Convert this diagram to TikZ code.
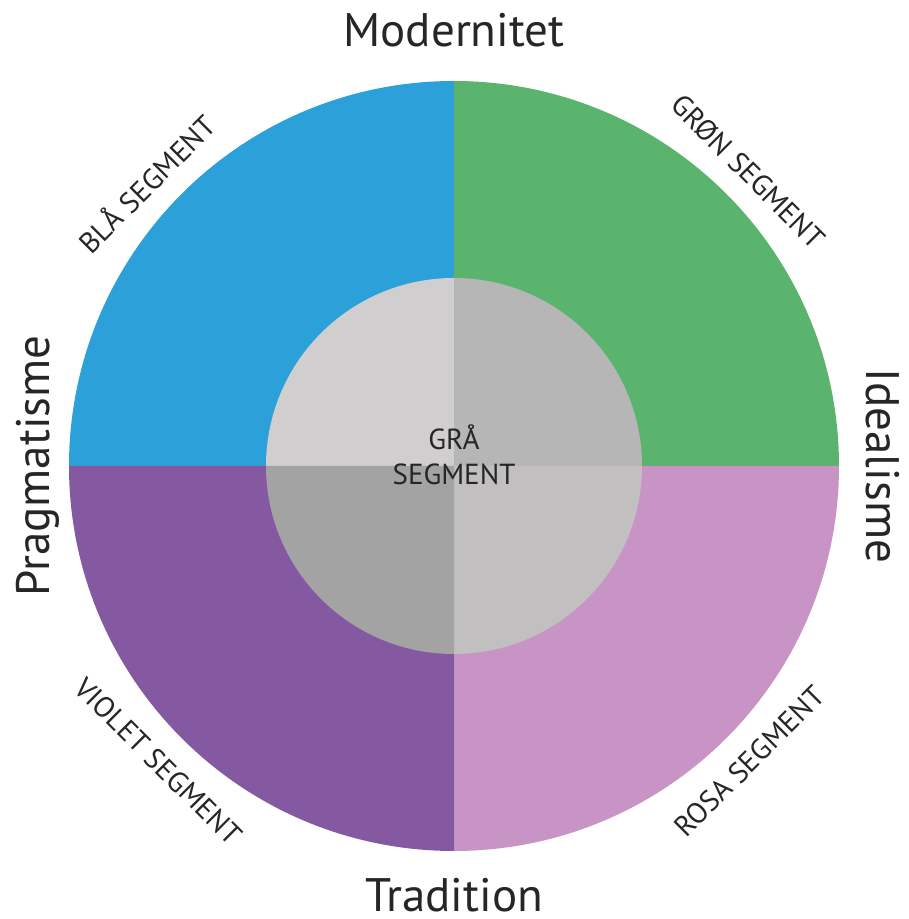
\documentclass[tikz,border=0pt]{standalone}
\usepackage{fontspec}
\setmainfont{PT Sans}
\usepackage{xcolor}
\usetikzlibrary{calc}

\definecolor{blaa}{HTML}{2CA0D8}
\definecolor{groen}{HTML}{5AB46E}
\definecolor{violet}{HTML}{8559A2}
\definecolor{rosa}{HTML}{C794C5}
\definecolor{graaNW}{HTML}{D0CECF}
\definecolor{graaNE}{HTML}{B6B6B6}
\definecolor{graaSW}{HTML}{A3A3A3}
\definecolor{graaSE}{HTML}{C1BFC0}

\begin{document}
\begin{tikzpicture}[
    x=1pt, y=1pt,
    axis/.style={
        font=\fontsize{47}{52}\selectfont,
        text=black!85,
        inner sep=0pt
    },
    seglabel/.style={
        font=\fontsize{29}{35}\selectfont,
        text=black!85,
        inner sep=0pt
    }
]
\useasboundingbox (0,0) rectangle (909,919);
\coordinate (c) at (454,453);

% outer ring, one quarter each
\fill[blaa]   (c) -- ++(180:385) arc (180:90:385) -- cycle;
\fill[groen]  (c) -- ++(90:385) arc (90:0:385) -- cycle;
\fill[rosa]   (c) -- ++(0:385) arc (0:-90:385) -- cycle;
\fill[violet] (c) -- ++(270:385) arc (270:180:385) -- cycle;

% inner disc
\fill[graaNW] (c) -- ++(180:188) arc (180:90:188) -- cycle;
\fill[graaNE] (c) -- ++(90:188) arc (90:0:188) -- cycle;
\fill[graaSE] (c) -- ++(0:188) arc (0:-90:188) -- cycle;
\fill[graaSW] (c) -- ++(270:188) arc (270:180:188) -- cycle;

\node[seglabel, align=center] (gra) at ($(c)+(0,11)$) {GRÅ\\SEGMENT};

% the four axes
\node[axis, anchor=base] (modern) at (454,872) {Modernitet};
\node[axis, anchor=base] (trad) at (454,7) {Tradition};
\node[axis, anchor=base, rotate=90] (prag) at (49,453) {Pragmatisme};
\node[axis, anchor=base, rotate=-90] (ideal) at (866,453) {Idealisme};

% segment names round the rim
\node[seglabel, anchor=base, rotate=45] (bla) at ($(c)+(137.5:406)$) {BLÅ SEGMENT};
\node[seglabel, anchor=base, rotate=-45] (gron) at ($(c)+(45:406)$) {GRØN SEGMENT};
\node[seglabel, anchor=base, rotate=-45] (viol) at ($(c)+(225:428)$) {VIOLET SEGMENT};
\node[seglabel, anchor=base, rotate=45] (ros) at ($(c)+(-45:428)$) {ROSA SEGMENT};

\end{tikzpicture}
\end{document}
